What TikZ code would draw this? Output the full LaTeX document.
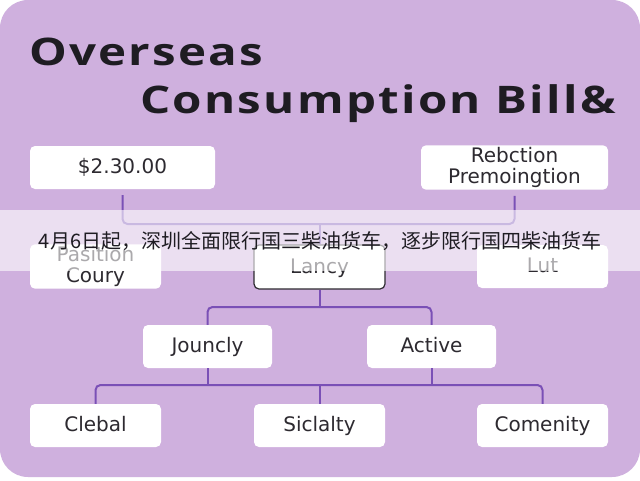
\documentclass[tikz,border=0pt]{standalone}
\usepackage{fontspec}
\setmainfont{DejaVu Sans}
\newfontfamily\titlefont[FakeStretch=1.25,LetterSpace=6]{Open Sans}
\newfontfamily\cjkfont{Noto Sans CJK SC}
\definecolor{bgpurple}{RGB}{207,176,222}
\definecolor{linepurple}{RGB}{122,80,182}
\definecolor{txt}{RGB}{45,42,48}
\definecolor{ttl}{RGB}{30,28,34}
\begin{document}
\begin{tikzpicture}[x=1pt,y=-1pt,
  box/.style={fill=white, rounded corners=5pt, minimum width=131pt, minimum height=43pt, inner sep=2pt, text=txt, font=\fontsize{20}{21}\selectfont, align=center},
  one/.style={text height=15.5pt, text depth=3pt},
  conn/.style={draw=linepurple, line width=2pt, rounded corners=5pt},
  title/.style={anchor=base west, inner sep=0pt, text=ttl, font=\titlefont\bfseries\fontsize{38}{40}\selectfont}]
\useasboundingbox (0,0) rectangle (640,480);
\fill[white] (0,0) rectangle (640,480);
\fill[bgpurple, rounded corners=28pt] (0,0) rectangle (640,477);

\node[title] (ta) at (29,65) {Overseas};
\node[title] (tb) at (140,113) {Consumption Bill\&};

\node[box, one, minimum width=185pt] (cost) at (122.5,167.5) {\$2.30.00};
\node[box, minimum width=187pt] (reb) at (514.5,167.5) {Rebction\\Premoingtion};
\node[box] (pos) at (95.5,266.5) {Pasition\\Coury};
\node[box, one, draw=txt, line width=1.2pt, minimum height=44pt] (lancy) at (319.5,267) {Lancy};
\node[box, one] (lut) at (542.5,266.5) {Lut};
\node[box, one, minimum width=129pt] (jou) at (207.5,346.5) {Jouncly};
\node[box, one, minimum width=129pt] (act) at (431.5,346.5) {Active};
\node[box, one] (cle) at (95.5,425.5) {Clebal};
\node[box, one] (sic) at (319.5,425.5) {Siclalty};
\node[box, one] (com) at (542.5,425.5) {Comenity};

\coordinate (j1) at (319.5,224);
\draw[conn, shorten <=6pt, shorten >=6pt] (cost.south) |- (j1) -| (reb.south);
\draw[conn] (j1) -- (lancy.north);
\coordinate (j2) at (319.5,307);
\draw[conn] (jou.north) |- (j2) -| (act.north);
\draw[conn] (lancy.south) -- (j2);
\coordinate (j3) at (319.5,385);
\draw[conn] (cle.north) |- (j3) -| (com.north);
\draw[conn] (jou.south) -- (jou.south |- j3);
\draw[conn] (act.south) -- (act.south |- j3);
\draw[conn] (j3) -- (sic.north);

\fill[white, opacity=0.6] (0,210) rectangle (640,271);
\node[inner sep=0pt, text=ttl, font=\cjkfont\fontsize{20}{22}\selectfont] (note) at (320,241) {4月6日起，深圳全面限行国三柴油货车，逐步限行国四柴油货车};
\end{tikzpicture}
\end{document}
